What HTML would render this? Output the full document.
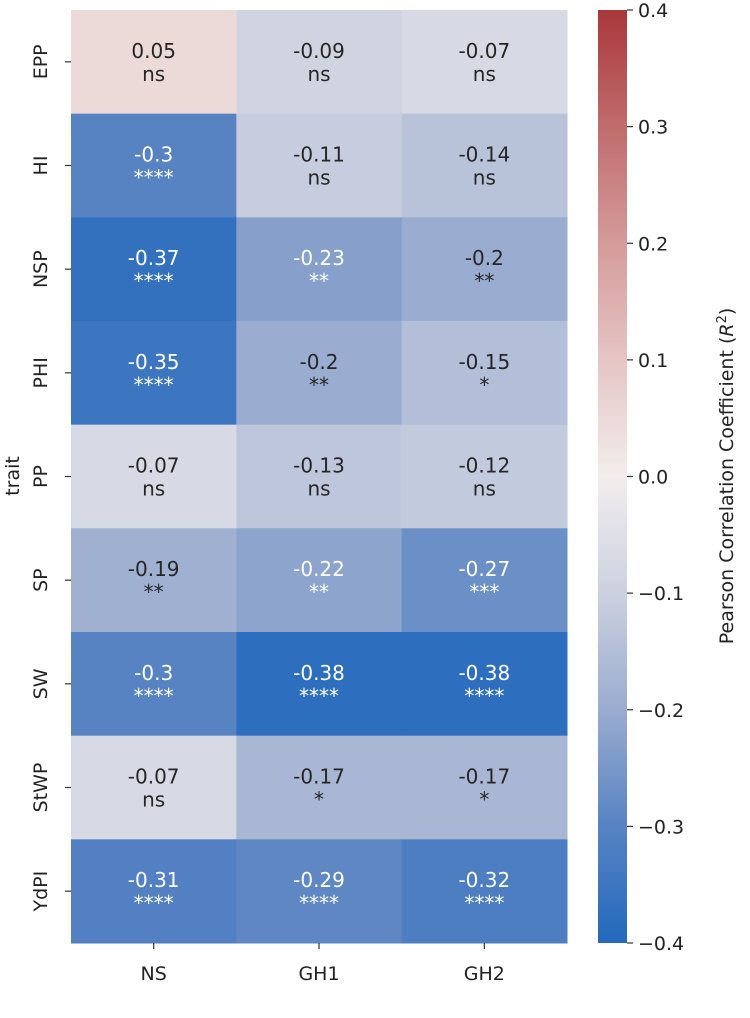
<!DOCTYPE html>
<html><head><meta charset="utf-8"><style>
body{margin:0;background:#fff;}
svg text{font-family:"DejaVu Sans","Liberation Sans",sans-serif;}
</style></head><body>
<svg id="chart" width="750" height="1013" xmlns="http://www.w3.org/2000/svg">
<defs>
<linearGradient id="cbg" x1="0" y1="1" x2="0" y2="0">
<stop offset="0" stop-color="#2369bd"/><stop offset="0.125" stop-color="#5783c3"/>
<stop offset="0.25" stop-color="#9aaccf"/><stop offset="0.375" stop-color="#ccd1e0"/>
<stop offset="0.5" stop-color="#f2eeed"/><stop offset="0.625" stop-color="#e5c5c4"/>
<stop offset="0.75" stop-color="#d49b9a"/><stop offset="0.875" stop-color="#c06c6d"/>
<stop offset="1" stop-color="#a9373b"/></linearGradient></defs>
<g id="cells"></g>
<rect x="598" y="10" width="29" height="933" fill="url(#cbg)"/>
<g id="cbticks"></g>
<text transform="translate(733,476) rotate(-90)" text-anchor="middle" font-size="19" fill="#222">Pearson Correlation Coefficient (<tspan font-style="italic">R</tspan><tspan baseline-shift="super" font-size="13">2</tspan>)</text>
<text transform="translate(19,476) rotate(-90)" text-anchor="middle" font-size="19" fill="#222">trait</text>
</svg>
<script>
const traits=["EPP","HI","NSP","PHI","PP","SP","SW","StWP","YdPI"];
const envs=["NS","GH1","GH2"];
const values=[[0.05,-0.09,-0.07],[-0.3,-0.11,-0.14],[-0.37,-0.23,-0.2],[-0.35,-0.2,-0.15],[-0.07,-0.13,-0.12],[-0.19,-0.22,-0.27],[-0.3,-0.38,-0.38],[-0.07,-0.17,-0.17],[-0.31,-0.29,-0.32]];
const stars=[["ns","ns","ns"],["****","ns","ns"],["****","**","**"],["****","**","*"],["ns","ns","ns"],["**","**","***"],["****","****","****"],["ns","*","*"],["****","****","****"]];
const cbTicks=[0.4,0.3,0.2,0.1,0.0,-0.1,-0.2,-0.3,-0.4];
const X0=71,X1=567,Y0=10,Y1=943,VMIN=-0.4,VMAX=0.4;
const cw=(X1-X0)/envs.length,ch=(Y1-Y0)/traits.length;
const stops=[[35,105,189],[87,131,195],[154,172,207],[204,209,224],[242,238,237],[229,197,196],[212,155,154],[192,108,109],[169,55,59]];
function color(v){let t=(v-VMIN)/(VMAX-VMIN)*8;t=Math.max(0,Math.min(8,t));const i=Math.min(7,Math.floor(t)),f=t-i;
const c=stops[i].map((a,k)=>Math.round(a+(stops[i+1][k]-a)*f));return`rgb(${c})`;}
const ns="http://www.w3.org/2000/svg";
function mk(tag,attrs,parent){const e=document.createElementNS(ns,tag);for(const k in attrs)e.setAttribute(k,attrs[k]);parent.appendChild(e);return e;}
const g=document.getElementById('cells'),svg=document.getElementById('chart');
traits.forEach((tr,r)=>{
 envs.forEach((en,c)=>{
  const v=values[r][c],x=X0+c*cw,y=Y0+r*ch;
  const rc=mk('rect',{x:x,y:y,width:cw+0.5,height:ch+0.5,fill:color(v)},g);
  
  
  const col=v<=-0.21?'#fff':'#262626';
  const t1=mk('text',{x:x+cw/2,y:y+ch/2-4,'text-anchor':'middle','font-size':20,fill:col},g);t1.textContent=String(v);
  
  
  const t2=mk('text',{x:x+cw/2,y:y+ch/2+19,'text-anchor':'middle','font-size':20,fill:col},g);t2.textContent=stars[r][c];
  
  
 });
 const cy=Y0+(r+0.5)*ch;
 mk('line',{x1:X0-6,x2:X0,y1:cy,y2:cy,stroke:'#333','stroke-width':1.2},svg);
 const tl=mk('text',{transform:`translate(47,${cy}) rotate(-90)`,'text-anchor':'middle','font-size':19,fill:'#222'},svg);tl.textContent=tr;
 
 
});
envs.forEach((en,c)=>{const cx=X0+(c+0.5)*cw;
 mk('line',{x1:cx,x2:cx,y1:Y1,y2:Y1+6,stroke:'#333','stroke-width':1.2},svg);
 const t=mk('text',{x:cx,y:980,'text-anchor':'middle','font-size':19,fill:'#222'},svg);t.textContent=en;
 
 
});
const cb=document.getElementById('cbticks');
cbTicks.forEach(v=>{const y=Y1-(v-VMIN)/(VMAX-VMIN)*(Y1-Y0);
 mk('line',{x1:627,x2:633,y1:y,y2:y,stroke:'#333','stroke-width':1.2},cb);
 const t=mk('text',{x:638,y:y+7,'font-size':19,fill:'#222'},cb);t.textContent=(v<0?'\u2212':'')+Math.abs(v).toFixed(1);
 
 
});
</script>
</body></html>
